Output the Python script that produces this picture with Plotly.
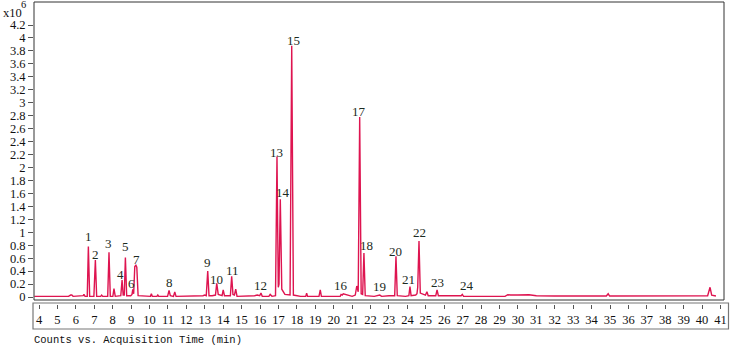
import plotly.graph_objects as go

# Chromatogram vertices: time (min), counts (x10^6)
rt = [3.75, 4.0, 5.0, 5.6, 5.72, 5.78, 5.85, 6.3, 6.4, 6.44, 6.5, 6.62, 6.68, 6.75, 6.98, 7.06, 7.13,
      7.35, 7.4, 7.46, 7.73, 7.80, 7.87, 8.01, 8.07, 8.14, 8.44, 8.51, 8.57, 8.63, 8.69, 8.76,
      8.98, 9.05, 9.09, 9.14, 9.20, 9.26, 9.31, 9.38, 9.8, 10.05, 10.1, 10.15, 10.4, 10.45, 10.5,
      10.98, 11.06, 11.13, 11.3, 11.37, 11.44, 11.9, 12.0, 12.1, 12.6, 12.9, 13.0, 13.08, 13.16, 13.23,
      13.4, 13.58, 13.65, 13.73, 13.94, 14.0, 14.07, 14.39, 14.46, 14.53, 14.61, 14.68, 14.75,
      15.2, 15.7, 15.85, 15.98, 16.05, 16.12, 16.48, 16.55, 16.65, 16.84, 16.92, 16.99, 17.03, 17.10,
      17.18, 17.35, 17.63, 17.72, 17.81, 18.2, 18.48, 18.53, 18.58, 19.2, 19.27, 19.33, 20.0,
      20.35, 20.4, 20.46, 20.52, 21.0, 21.17, 21.25, 21.33, 21.41, 21.49, 21.57, 21.64, 21.71,
      22.2, 22.4, 22.5, 22.6, 22.9, 22.95, 23.0, 23.31, 23.38, 23.45, 23.9, 24.08, 24.14, 24.2,
      24.45, 24.52, 24.56, 24.63, 24.7, 24.98, 25.06, 25.13, 25.54, 25.61, 25.68, 26.0, 26.65, 26.7,
      26.75, 26.92, 26.98, 27.05, 28.0, 29.3, 29.45, 29.6, 30.0, 30.6, 31.0, 32.0, 34.8, 34.9, 34.98,
      38.0, 40.3, 40.43, 40.52, 40.75]
counts = [0.01, 0.01, 0.01, 0.01, 0.03, 0.03, 0.01, 0.01, 0.02, 0.04, 0.01, 0.01, 0.78, 0.01, 0.01, 0.57, 0.01,
          0.01, 0.03, 0.01, 0.01, 0.69, 0.01, 0.01, 0.13, 0.01, 0.02, 0.26, 0.03, 0.03, 0.61, 0.02,
          0.02, 0.04, 0.12, 0.05, 0.47, 0.49, 0.46, 0.02, 0.01, 0.01, 0.05, 0.01, 0.01, 0.03, 0.01,
          0.01, 0.10, 0.02, 0.01, 0.08, 0.01, 0.01, 0.02, 0.01, 0.01, 0.02, 0.03, 0.02, 0.40, 0.02,
          0.02, 0.03, 0.21, 0.04, 0.02, 0.11, 0.02, 0.02, 0.32, 0.04, 0.03, 0.12, 0.01,
          0.01, 0.02, 0.03, 0.02, 0.06, 0.01, 0.01, 0.04, 0.01, 0.02, 2.17, 0.15, 0.20, 1.51,
          0.12, 0.04, 0.03, 3.88, 0.03, 0.01, 0.01, 0.06, 0.01, 0.01, 0.11, 0.01, 0.01,
          0.01, 0.04, 0.03, 0.05, 0.01, 0.03, 0.17, 0.08, 2.78, 0.05, 0.04, 0.68, 0.02,
          0.01, 0.02, 0.03, 0.01, 0.02, 0.03, 0.02, 0.02, 0.63, 0.02, 0.01, 0.02, 0.16, 0.02,
          0.03, 0.05, 0.15, 0.865, 0.06, 0.03, 0.08, 0.02, 0.02, 0.11, 0.02, 0.02, 0.02, 0.03,
          0.02, 0.02, 0.04, 0.01, 0.01, 0.01, 0.035, 0.03, 0.03, 0.035, 0.02, 0.015, 0.015, 0.05, 0.015,
          0.015, 0.02, 0.15, 0.03, 0.015]

peak_labels = [str(i) for i in range(1, 25)]
label_t = [6.66, 7.06, 7.78, 8.41, 8.67, 9.03, 9.30, 11.07, 13.14, 13.65, 14.52, 16.04,
           16.90, 17.26, 17.81, 20.40, 21.36, 21.79, 22.47, 23.33, 24.05, 24.63, 25.62, 27.22]
label_y = [0.942, 0.649, 0.829, 0.355, 0.777, 0.201, 0.582, 0.221, 0.536, 0.278, 0.417, 0.185,
           2.234, 1.617, 3.968, 0.174, 2.861, 0.788, 0.159, 0.695, 0.278, 0.999, 0.221, 0.174]

x_ticks = list(range(4, 42))
y_ticks = [round(0.2 * i, 1) for i in range(22)]
y_ticktext = [("%g" % v) for v in y_ticks]

W, H = 731, 347
ML, MR, MT, MB = 34, 3, 2, 18
pw, ph = W - ML - MR, H - MT - MB

def px_x(p):
    return (p - ML) / pw

def px_y(p):
    return (H - MB - p) / ph

fig = go.Figure()
fig.add_trace(go.Scatter(x=rt, y=counts, mode="lines",
                         line=dict(color="#de1450", width=1.4), hoverinfo="skip",
                         showlegend=False))

serif = "Liberation Serif, DejaVu Serif, serif"
for lab, t, y in zip(peak_labels, label_t, label_y):
    fig.add_annotation(x=t, y=y, text=lab, showarrow=False, xanchor="center", yanchor="middle",
                       font=dict(family=serif, size=13, color="#1c2a22"))

ppm = 18.42
x0 = 4 - (39 - ML) / ppm
x1 = x0 + pw / ppm
ypu = 64.76
ydom0 = px_y(300)

fig.update_layout(
    width=W, height=H,
    margin=dict(l=ML, r=MR, t=MT, b=MB, autoexpand=False),
    paper_bgcolor="white", plot_bgcolor="white",
    xaxis=dict(range=[x0, x1], domain=[0, 1], anchor="free", position=px_y(304),
               automargin=False,
               tickvals=x_ticks, ticktext=[str(v) for v in x_ticks],
               ticks="outside", ticklen=4, tickcolor="#555", tickwidth=1,
               showgrid=False, zeroline=False, showline=False,
               tickfont=dict(family=serif, size=12.5, color="#111")),
    yaxis=dict(range=[-3 / ypu, 295 / ypu], domain=[ydom0, 1], automargin=False,
               tickvals=y_ticks, ticktext=y_ticktext,
               ticks="outside", ticklen=5, tickcolor="#555", tickwidth=1,
               showgrid=False, zeroline=False, showline=False,
               tickfont=dict(family=serif, size=12.5, color="#111")),
)

# upper frame
fig.add_shape(type="rect", xref="paper", yref="paper", x0=0, x1=px_x(724), y0=ydom0, y1=1,
              line=dict(color="#333", width=1))
# axis box
fig.add_shape(type="rect", xref="paper", yref="paper", x0=px_x(33), x1=px_x(728.5),
              y0=px_y(329), y1=px_y(303), line=dict(color="#777", width=1.2))

fig.add_annotation(xref="paper", yref="paper", x=px_x(1), y=px_y(13), text="x10",
                   showarrow=False, xanchor="left", yanchor="middle",
                   font=dict(family=serif, size=12.5, color="#111"))
fig.add_annotation(xref="paper", yref="paper", x=px_x(23), y=px_y(5), text="6",
                   showarrow=False, xanchor="center", yanchor="middle",
                   font=dict(family=serif, size=10.5, color="#111"))
fig.add_annotation(xref="paper", yref="paper", x=px_x(32), y=px_y(340),
                   text="Counts vs. Acquisition Time (min)",
                   showarrow=False, xanchor="left", yanchor="middle",
                   font=dict(family="Liberation Mono, DejaVu Sans Mono, monospace", size=10.5,
                             color="#111"))

fig.write_html("out.html", config={"displayModeBar": False, "staticPlot": True},
               post_script="document.body.style.margin='0';document.body.style.overflow='hidden';")
